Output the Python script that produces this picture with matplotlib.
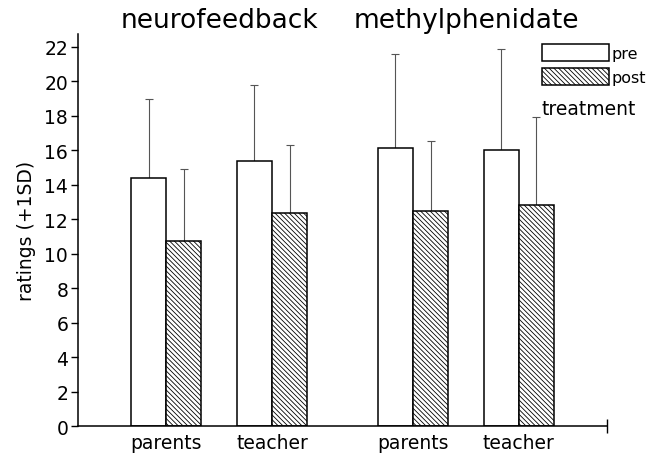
import numpy as np
import matplotlib.pyplot as plt

# data
treatments = ['neurofeedback', 'methylphenidate']
raters = ['parents', 'teacher', 'parents', 'teacher']
group_treatment = [0, 0, 1, 1]
pre_mean = [14.4, 15.35, 16.15, 16.0]
pre_sd = [4.6, 4.45, 5.45, 5.9]
post_mean = [10.75, 12.35, 12.45, 12.8]
post_sd = [4.15, 3.95, 4.1, 5.15]
yticks = np.arange(0, 23, 2)

FIGWIDTH = 6.46
FIGHEIGHT = 4.6
FS = 13.5

fig = plt.figure(figsize=(FIGWIDTH, FIGHEIGHT), dpi=100)
ax = fig.add_axes([0.1207, 0.0717, 0.8189, 0.8523])

centers = np.array([2.5 + 3 * i + group_treatment[i] for i in range(len(raters))])
bar_width = 1.0
zeros = np.zeros(len(raters))
plt.rcParams['hatch.linewidth'] = 0.6

ax.bar(centers - bar_width / 2, pre_mean, bar_width, color='white',
       edgecolor='black', linewidth=1.1, label='pre', zorder=2)
ax.bar(centers + bar_width / 2, post_mean, bar_width, color='white',
       edgecolor='black', linewidth=1.1, hatch='\\' * 7, label='post', zorder=2)
ax.errorbar(centers - bar_width / 2, pre_mean, yerr=[zeros, pre_sd], fmt='none',
            ecolor='#555555', elinewidth=0.8, capsize=3, capthick=0.8, zorder=1)
ax.errorbar(centers + bar_width / 2, post_mean, yerr=[zeros, post_sd], fmt='none',
            ecolor='#555555', elinewidth=0.8, capsize=3, capthick=0.8, zorder=1)

ax.set_xlim(0, 15)
ax.set_ylim(0, 22.75)
ax.set_yticks(yticks)
ax.tick_params(axis='y', direction='out', length=5, width=1, labelsize=FS, pad=2)
ax.set_xticks(centers)
ax.set_xticklabels(raters)
ax.tick_params(axis='x', length=0, labelsize=FS, pad=5)
ax.set_xticks([15], minor=True)
ax.tick_params(axis='x', which='minor', direction='inout', length=10, width=1)
for s in ['top', 'right']:
    ax.spines[s].set_visible(False)
for s in ['left', 'bottom']:
    ax.spines[s].set_linewidth(1.1)

ax.set_ylabel('ratings (+1SD)', fontsize=FS, labelpad=6)

# treatment titles over each pair of groups
for t, name in enumerate(treatments):
    xc = np.mean([c for c, g in zip(centers, group_treatment) if g == t])
    ax.text(xc, 0.939, name, transform=ax.get_xaxis_transform().__class__(ax.transData, fig.transFigure),
            ha='center', va='baseline', fontsize=19)

leg = ax.legend(loc='upper left', bbox_to_anchor=(0.839, 0.902),
                bbox_transform=fig.transFigure, frameon=False, fontsize=11.5,
                handlelength=4.2, handleheight=1.3, handletextpad=0.15,
                labelspacing=0.4, borderpad=0, borderaxespad=0)
fig.text(0.838, 0.763, 'treatment', fontsize=13.5, va='center', ha='left')

fig.savefig('out.png', dpi=100)
